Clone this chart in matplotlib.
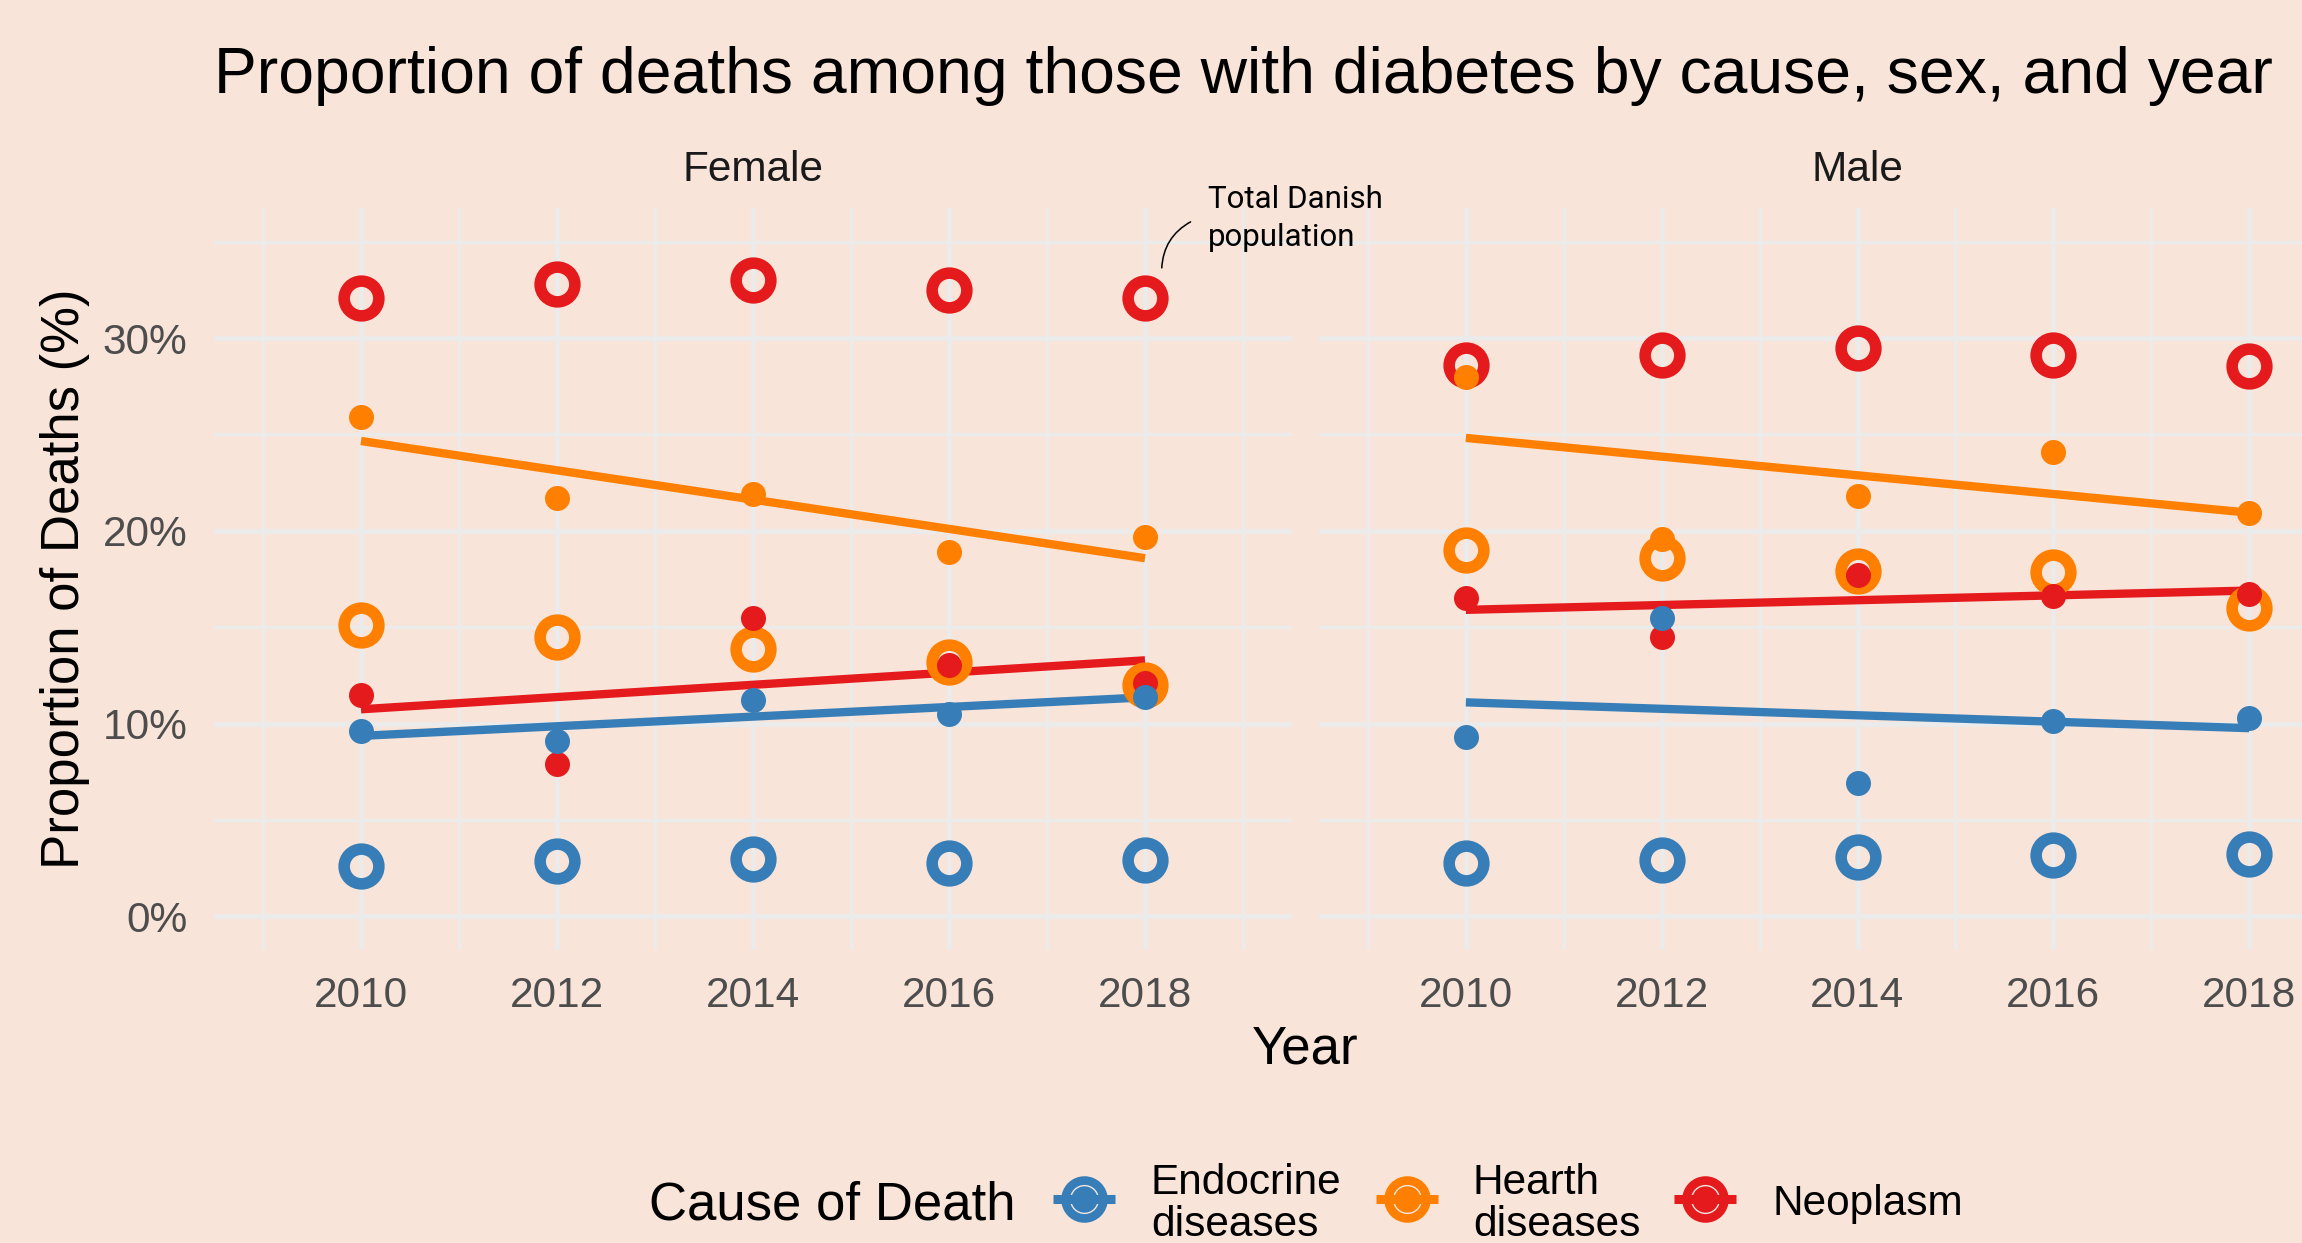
import numpy as np
import matplotlib
matplotlib.use('Agg')
import matplotlib.pyplot as plt
from matplotlib.lines import Line2D
from matplotlib.ticker import FixedLocator, FixedFormatter

# ---------------- data ----------------
years = [2010, 2012, 2014, 2016, 2018]
cause_labels = ["Endocrine\ndiseases", "Hearth\ndiseases", "Neoplasm"]
cause_colors = ["#377EB8", "#FF7F00", "#E41A1C"]
sexes = ["Female", "Male"]

# population with diabetes (filled dots), %
female_diab_endocrine = [9.6, 9.1, 11.2, 10.5, 11.4]
female_diab_heart = [25.9, 21.7, 21.9, 18.9, 19.7]
female_diab_neoplasm = [11.5, 7.9, 15.5, 13.05, 12.1]
male_diab_endocrine = [9.3, 15.5, 6.9, 10.15, 10.3]
male_diab_heart = [28.0, 19.6, 21.8, 24.1, 20.9]
male_diab_neoplasm = [16.5, 14.5, 17.7, 16.6, 16.7]

# total Danish population (open circles), %
female_total_endocrine = [2.6, 2.85, 2.95, 2.75, 2.9]
female_total_heart = [15.1, 14.5, 13.85, 13.2, 12.0]
female_total_neoplasm = [32.1, 32.8, 33.0, 32.5, 32.1]
male_total_endocrine = [2.75, 2.9, 3.05, 3.2, 3.25]
male_total_heart = [19.0, 18.6, 17.9, 17.85, 16.0]
male_total_neoplasm = [28.6, 29.1, 29.5, 29.1, 28.55]

y_ticks = [0, 10, 20, 30]
y_tick_labels = ["0%", "10%", "20%", "30%"]
x_ticks = [2010, 2012, 2014, 2016, 2018]

diab = {
    "Female": [female_diab_endocrine, female_diab_heart, female_diab_neoplasm],
    "Male": [male_diab_endocrine, male_diab_heart, male_diab_neoplasm],
}
total = {
    "Female": [female_total_endocrine, female_total_heart, female_total_neoplasm],
    "Male": [male_total_endocrine, male_total_heart, male_total_neoplasm],
}

# ---------------- style ----------------
BG = "#F8E4D8"
GRID = "#EBEBEB"
MAIN_FONT = ["Liberation Sans", "DejaVu Sans"]
plt.rcParams['font.family'] = MAIN_FONT

W, H = 2302, 1243
def fx(px):
    return px / W
def fy(py):
    return 1 - py / H

fig = plt.figure(figsize=(W / 100, H / 100), dpi=100, facecolor=BG)

panel_top, panel_bot = 208, 950
panels = {"Female": (214, 1292), "Male": (1319, 2396)}
axes = {}
for sex in sexes:
    x0, x1 = panels[sex]
    ax = fig.add_axes([fx(x0), fy(panel_bot), (x1 - x0) / W, (panel_bot - panel_top) / H])
    ax.set_facecolor(BG)
    ax.set_xlim(2008.5, 2019.5)
    ax.set_ylim(-1.75, 36.75)
    ax.xaxis.set_major_locator(FixedLocator(x_ticks))
    ax.xaxis.set_minor_locator(FixedLocator([2009, 2011, 2013, 2015, 2017, 2019]))
    ax.yaxis.set_major_locator(FixedLocator(y_ticks))
    ax.yaxis.set_minor_locator(FixedLocator([5, 15, 25, 35]))
    ax.yaxis.set_major_formatter(FixedFormatter(y_tick_labels))
    ax.grid(which='major', color=GRID, lw=3.5, zorder=0)
    ax.grid(which='minor', color=GRID, lw=2.4, zorder=0)
    ax.set_axisbelow(True)
    for s in ax.spines.values():
        s.set_visible(False)
    ax.tick_params(which='both', length=0)
    ax.tick_params(axis='x', pad=18.5, labelsize=30.5, labelcolor="#4D4D4D")
    ax.tick_params(axis='y', pad=19, labelsize=30.5, labelcolor="#4D4D4D")
    if sex == "Male":
        ax.tick_params(axis='y', labelleft=False)
    axes[sex] = ax

    # regression lines (fitted on diabetes points)
    for vals, col in zip(diab[sex], cause_colors):
        coef = np.polyfit(years, vals, 1)
        xl = np.array([years[0], years[-1]])
        ax.plot(xl, np.polyval(coef, xl), color=col, lw=6, solid_capstyle='butt', zorder=2)
    # total population rings
    for vals, col in zip(total[sex], cause_colors):
        ax.plot(years, vals, 'o', ms=25, mfc='none', mec=col, mew=8.3, zorder=3, clip_on=False)
    # diabetes dots (neoplasm first, endocrine on top)
    for vals, col in list(zip(diab[sex], cause_colors))[::-1]:
        ax.plot(years, vals, 'o', ms=18, mfc=col, mew=0, zorder=4, clip_on=False)

# strip labels
fig.text(fx(753), fy(181), "Female", fontsize=30.5, color="#1A1A1A", ha='center', va='baseline')
fig.text(fx(1857), fy(181), "Male", fontsize=30.5, color="#1A1A1A", ha='center', va='baseline')

# title and axis titles
fig.text(fx(214), fy(93), "Proportion of deaths among those with diabetes by cause, sex, and year",
         fontsize=46.3, color="black", ha='left', va='baseline')
fig.text(fx(65), fy(579), "Proportion of Deaths (%)", fontsize=38, rotation=90,
         ha='center', va='center')
fig.text(fx(1305), fy(1064), "Year", fontsize=38, ha='center', va='baseline')

# annotation
axf = axes["Female"]
axf.annotate("", xy=(2018.17, 33.5), xytext=(2018.49, 36.1),
             arrowprops=dict(arrowstyle='-', connectionstyle='arc3,rad=0.3', lw=1.1, color='black'),
             annotation_clip=False)
fig.text(fx(1208), fy(185), "Total Danish\npopulation", fontsize=22.5, family=["Roboto", "DejaVu Sans"],
         ha='left', va='top', linespacing=1.4, zorder=10)

# legend (manual)
fig.text(fx(649), fy(1220), "Cause of Death", fontsize=38, ha='left', va='baseline')
key_x = [1084, 1407, 1705]
lab_x = [1151, 1473, 1772]
ky = 1199
for kx, lx, col, lab in zip(key_x, lab_x, cause_colors, cause_labels):
    fig.add_artist(Line2D([fx(kx)], [fy(ky)], marker='o', ms=25, mfc='none', mec=col, mew=8.5,
                          transform=fig.transFigure))
    fig.add_artist(Line2D([fx(kx)], [fy(ky)], marker='o', ms=18, mfc=col, mew=0,
                          transform=fig.transFigure))
    fig.add_artist(Line2D([fx(kx)], [fy(ky)], marker='o', ms=20, mfc='none', mec='#F3E6E0', mew=1.0,
                          transform=fig.transFigure))
    fig.add_artist(Line2D([fx(kx - 31), fx(kx + 31)], [fy(ky), fy(ky)], color=col, lw=6.5,
                          solid_capstyle='butt', transform=fig.transFigure))
    fig.text(fx(lx), fy(1204), lab, fontsize=30.5, ha='left', va='center', linespacing=1.05)

fig.savefig("out.png", dpi=100, facecolor=BG)
